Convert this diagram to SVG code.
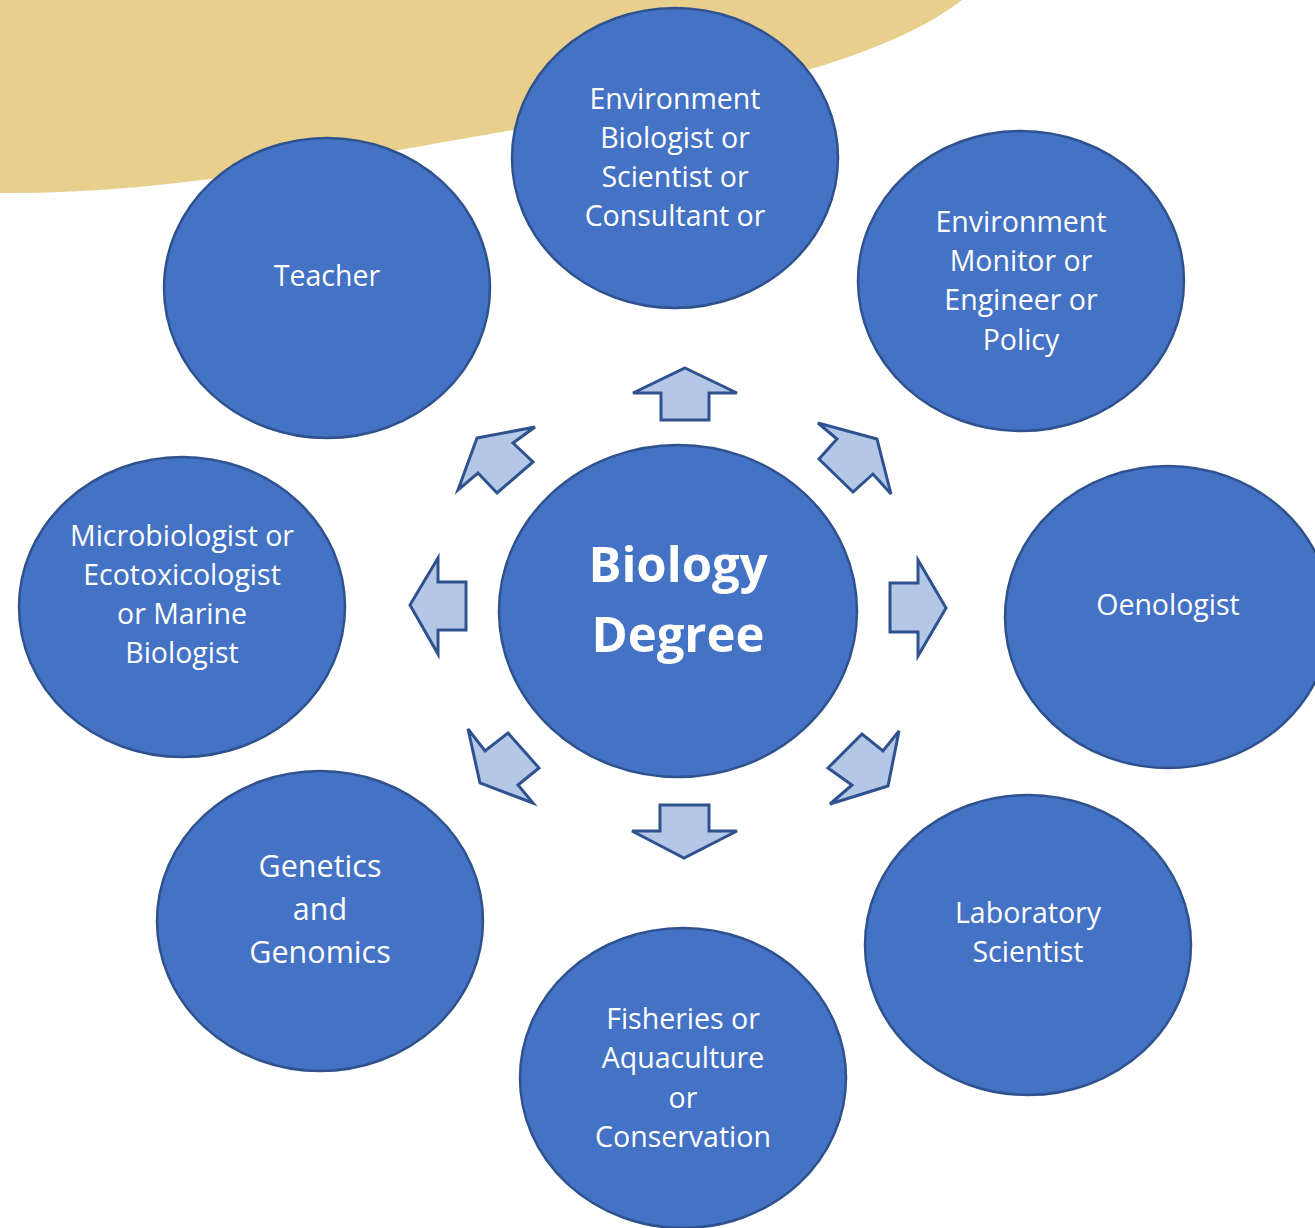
<svg xmlns="http://www.w3.org/2000/svg" width="1315" height="1228" viewBox="0 0 1315 1228">
<style>
.n{fill:#4472C4;stroke:#2F528F;stroke-width:2.5}
.t{font-family:"Open Sans","Noto Sans",sans-serif;font-size:28.5px;fill:#fff;text-anchor:middle}
.b{font-weight:bold;font-size:49px}
.g{font-size:30.5px}
.a{fill:#B4C7E7;stroke:#2F528F;stroke-width:3;stroke-linejoin:miter}
</style>
<rect width="1315" height="1228" fill="#fff"/>
<path d="M0,0 L962,0 C890,55 760,90 560,122 C380,152 180,195 0,193 Z" fill="#E9CF8E"/>
<g id="connectors">
<polygon class="a" points="685,368 737,393 709,393 709,420 661,420 661,393 633,393"/>
<polygon class="a" points="660,805 709,805 709,831 737,831 684,858 632,831 660,831"/>
<polygon class="a" points="890,583 918,583 918,560 946,608 918,656 918,632 890,632"/>
<polygon class="a" points="410,605 438,558 438,582 466,582 466,630 438,630 438,654"/>
<polygon class="a" points="877,439 891,494 873,474 853,492 819,459 837,439 818,423"/>
<polygon class="a" points="477,438 535,427 513,443 533,462 497,493 478,473 458,490"/>
<polygon class="a" points="480,783 468,729 485,751 508,733 539,768 518,785 533,803"/>
<polygon class="a" points="888,786 899,731 883,751 862,734 828,768 852,785 830,804"/>
</g>
<g id="center">
<ellipse class="n" cx="678" cy="611" rx="179" ry="166"/>
<text class="t b" x="678" y="582">Biology</text>
<text class="t b" x="678" y="652">Degree</text>
</g>
<g id="env-biologist">
<ellipse class="n" cx="675" cy="158" rx="163" ry="150"/>
<text class="t" x="675" y="109">Environment</text>
<text class="t" x="675" y="148">Biologist or</text>
<text class="t" x="675" y="187">Scientist or</text>
<text class="t" x="675" y="226">Consultant or</text>
</g>
<g id="teacher">
<ellipse class="n" cx="327" cy="288" rx="163" ry="150"/>
<text class="t" x="327" y="286">Teacher</text>
</g>
<g id="env-monitor">
<ellipse class="n" cx="1021" cy="281" rx="163" ry="150"/>
<text class="t" x="1021" y="232">Environment</text>
<text class="t" x="1021" y="271">Monitor or</text>
<text class="t" x="1021" y="310">Engineer or</text>
<text class="t" x="1021" y="350">Policy</text>
</g>
<g id="oenologist">
<ellipse class="n" cx="1168" cy="617" rx="163" ry="151"/>
<text class="t" x="1168" y="615">Oenologist</text>
</g>
<g id="microbiologist">
<ellipse class="n" cx="182" cy="607" rx="163" ry="150"/>
<text class="t" x="182" y="546">Microbiologist or</text>
<text class="t" x="182" y="585">Ecotoxicologist</text>
<text class="t" x="182" y="624">or Marine</text>
<text class="t" x="182" y="663">Biologist</text>
</g>
<g id="genetics">
<ellipse class="n" cx="320" cy="921" rx="163" ry="150"/>
<text class="t g" x="320" y="877">Genetics</text>
<text class="t g" x="320" y="920">and</text>
<text class="t g" x="320" y="963">Genomics</text>
</g>
<g id="fisheries">
<ellipse class="n" cx="683" cy="1078" rx="163" ry="150"/>
<text class="t" x="683" y="1029">Fisheries or</text>
<text class="t" x="683" y="1068">Aquaculture</text>
<text class="t" x="683" y="1108">or</text>
<text class="t" x="683" y="1147">Conservation</text>
</g>
<g id="laboratory">
<ellipse class="n" cx="1028" cy="945" rx="163" ry="150"/>
<text class="t" x="1028" y="923">Laboratory</text>
<text class="t" x="1028" y="962">Scientist</text>
</g>
</svg>
